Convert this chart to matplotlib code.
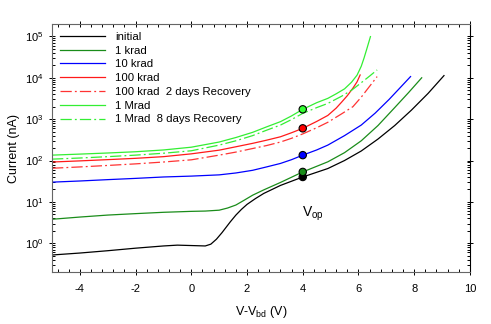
import numpy as np
import matplotlib.pyplot as plt
from matplotlib.ticker import MultipleLocator, LogLocator, NullFormatter

plt.rcParams['font.family'] = ['Liberation Sans', 'DejaVu Sans']
plt.rcParams['mathtext.fontset'] = 'custom'
plt.rcParams['mathtext.rm'] = 'Liberation Sans'
plt.rcParams['mathtext.it'] = 'Liberation Sans'
plt.rcParams['axes.unicode_minus'] = False

# curves: (V-Vbd, current in nA)
x_init = [-5, -4, -3, -2, -1, -0.5, 0, 0.5, 0.7, 0.9, 1.1, 1.4, 1.6, 1.8, 2.0, 2.3, 2.6, 3.2, 4.0,
          4.9, 5.5, 6.1, 6.7, 7.3, 7.9, 8.5, 9.07]
y_init = [0.52, 0.58, 0.66, 0.76, 0.86, 0.9, 0.88, 0.86, 0.95, 1.25, 1.8, 3.3, 4.8, 6.6, 8.7, 12, 16, 25, 40,
          64, 100, 170, 330, 700, 1650, 4200, 11300]

x_1k = [-5, -4, -3, -2, -1, 0, 0.5, 1.0, 1.3, 1.6, 1.9, 2.2, 2.6, 3.2, 4.0, 4.9, 5.5, 6.1, 6.7,
        7.3, 7.8, 8.27]
y_1k = [3.8, 4.3, 4.8, 5.2, 5.6, 5.9, 6.0, 6.3, 7.1, 8.4, 11, 14.5, 19.5, 29.5, 53, 93, 155, 300, 700,
        1900, 4400, 10000]

x_10k = [-5, -4, -3, -2, -1, 0, 1, 1.6, 2.2, 2.7, 3.2, 3.6, 4.0, 4.5, 4.9, 5.5, 6.1, 6.6, 7.1,
         7.5, 7.87]
y_10k = [30, 32, 34.5, 37, 40, 42, 45, 50, 58, 70, 85, 105, 135, 180, 236, 400, 720, 1400, 3000,
         5800, 10700]

x_100k = [-5, -4, -3, -2, -1, 0, 1, 1.6, 2.2, 2.7, 3.2, 3.6, 4.0, 4.5, 4.9, 5.2, 5.4, 5.6, 5.8,
          5.95, 6.06]
y_100k = [92, 98, 105, 113, 124, 145, 178, 215, 260, 310, 375, 470, 600, 880, 1230, 1850, 2600, 3700,
          5600, 8000, 11700]

x_100k_rec = [-5, -4, -3, -2, -1, 0, 1, 1.6, 2.2, 2.7, 3.2, 3.6, 4.0, 4.5, 4.9, 5.4, 5.8, 6.1,
              6.3, 6.5, 6.67]
y_100k_rec = [65, 70, 76, 83, 92, 104, 135, 160, 195, 230, 280, 345, 440, 620, 840, 1350, 2000, 3400,
              5100, 7600, 10700]

x_1M = [-5, -4, -3, -2, -1, 0, 1, 1.6, 2.2, 2.7, 3.2, 3.6, 4.0, 4.5, 4.9, 5.2, 5.5, 5.75, 5.95,
        6.1, 6.2, 6.3, 6.43]
y_1M = [135, 143, 152, 163, 180, 210, 280, 360, 480, 650, 870, 1200, 1730, 2500, 3180, 4100, 5400,
        7800, 11600, 19000, 30000, 50000, 99000]

x_1M_rec = [-5, -4, -3, -2, -1, 0, 1, 1.6, 2.2, 2.7, 3.2, 3.6, 4.0, 4.5, 4.9, 5.4, 5.77, 6.1,
            6.4, 6.67]
y_1M_rec = [108, 115, 124, 135, 150, 172, 236, 300, 400, 540, 720, 980, 1380, 1900, 2400, 3600, 5100,
            7600, 11000, 15500]

# operating point markers at Vop = 4 V
v_op = 4.0
i_op = [40, 53, 135, 600, 1730]
c_op = ['black', '#1a8c1a', '#0000ff', '#ff0000', '#33ff33']

fig = plt.figure(figsize=(4.91, 3.24), dpi=100)
ax = fig.add_axes([0.106, 0.160, 0.851, 0.766])

lw = 0.9
dashdot = (0, (9, 2.5, 1.5, 2.5))
ax.plot(x_init, y_init, color='black', lw=lw, label='initial')
ax.plot(x_1k, y_1k, color='#1a8c1a', lw=lw, label='1 krad')
ax.plot(x_10k, y_10k, color='#0000ff', lw=lw, label='10 krad')
ax.plot(x_100k, y_100k, color='#ff1a1a', lw=lw, label='100 krad')
ax.plot(x_100k_rec, y_100k_rec, color='#ff3333', lw=lw, ls=dashdot,
        label='100 krad  2 days Recovery')
ax.plot(x_1M, y_1M, color='#33ee33', lw=lw, label='1 Mrad')
ax.plot(x_1M_rec, y_1M_rec, color='#33ee33', lw=lw, ls=dashdot,
        label='1 Mrad  8 days Recovery')

ax.scatter([v_op] * len(i_op), i_op, s=28, c=c_op, edgecolors='black', linewidths=0.8, zorder=5)

ax.text(3.97, 4.3, r'V$_{\rm op}$', fontsize=10, va='baseline', ha='left')

ax.set_yscale('log')
ax.set_xlim(-5, 10)
ax.set_ylim(0.2, 2e5)
ax.xaxis.set_major_locator(MultipleLocator(2))
ax.xaxis.set_minor_locator(MultipleLocator(0.4))
ax.yaxis.set_major_locator(LogLocator(base=10, numticks=10))
ax.yaxis.set_minor_locator(LogLocator(base=10, subs=np.arange(2, 10), numticks=10))
ax.yaxis.set_minor_formatter(NullFormatter())

ax.tick_params(which='both', top=True, right=True, labelsize=8, width=0.7)
ax.tick_params(which='major', direction='inout', length=5)
ax.tick_params(which='minor', direction='in', length=2.5)
ax.tick_params(axis='x', which='major', pad=6)
for side in ['left', 'bottom', 'top']:
    ax.spines[side].set_color('#666666')
ax.spines['right'].set_color('black')

ax.set_xlabel(r'V-V$_{\rm bd}$ (V)', fontsize=9, labelpad=7)
ax.set_ylabel('Current (nA)', fontsize=9)

ax.legend(loc='upper left', frameon=False, fontsize=8.2, handlelength=3.95,
          handletextpad=0.9, labelspacing=0.33, borderaxespad=0.3,
          bbox_to_anchor=(0.0, 1.0))

fig.savefig('out.png', dpi=100)
